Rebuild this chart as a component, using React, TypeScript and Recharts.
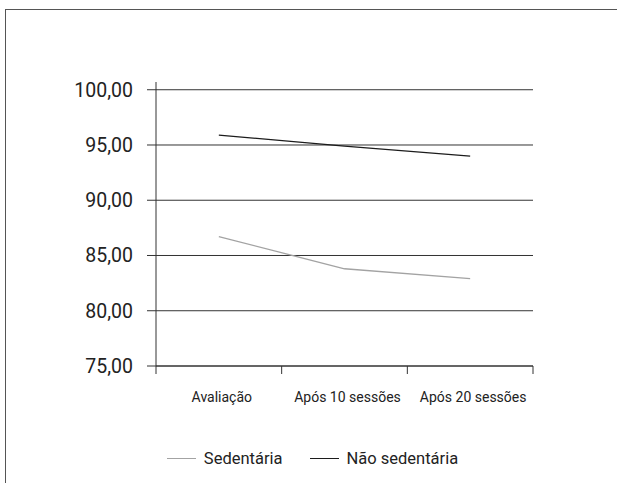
import React from 'react';
import { LineChart, Line, XAxis, YAxis, CartesianGrid, Legend } from 'recharts';

const categories = ['Avaliação', 'Após 10 sessões', 'Após 20 sessões'];
const sedentaria = [86.7, 83.8, 82.9];
const naoSedentaria = [95.9, 94.9, 94.0];
const yTicks = [75, 80, 85, 90, 95, 100];
const yDomain = [75, 100.7];

const SERIES = [
  { key: 'sedentaria', name: 'Sedentária', color: '#a3a3a3' },
  { key: 'naoSedentaria', name: 'Não sedentária', color: '#1c1c1c' },
];

// points sit in the middle of each category band (0..3)
const data = categories.map((c, i) => ({
  pos: i + 0.5,
  label: c,
  sedentaria: sedentaria[i],
  naoSedentaria: naoSedentaria[i],
}));

const FONT = 'Roboto, "Liberation Sans", Arial, sans-serif';
const BAND = (533 - 156) / 3;

// gridlines only at the labelled ticks, not at the top of the domain
const gridRows = ({ yAxis, offset }: any) => {
  const s = yAxis && yAxis.scale;
  if (typeof s === 'function') return yTicks.map((t) => s(t));
  if (s && typeof s.map === 'function') return yTicks.map((t) => s.map(t));
  return yTicks.map(
    (t) => offset.top + (offset.height * (yDomain[1] - t)) / (yDomain[1] - yDomain[0])
  );
};

const CategoryTick = (props: any) => {
  const { x, y, payload } = props;
  const label = categories[payload.value];
  if (!label) return null;
  return (
    <text x={x + BAND / 2 + 3} y={y + 26} textAnchor="middle" fontSize={14} fill="#222" fontFamily={FONT}>
      {label}
    </text>
  );
};

const LegendContent = () => (
  <div style={{ display: 'flex', justifyContent: 'center', alignItems: 'center', fontFamily: FONT, fontSize: 16.5, color: '#222' }}>
    {SERIES.map((s, i) => (
      <div key={s.key} style={{ display: 'flex', alignItems: 'center', marginLeft: i ? 27 : 0 }}>
        <span style={{ display: 'inline-block', width: 29, height: 0, borderTop: `1.3px solid ${s.color}`, marginRight: 8 }} />
        <span>{s.name}</span>
      </div>
    ))}
  </div>
);

export default function App() {
  return (
    <div style={{ position: 'absolute', left: 0, top: 0, width: 617, height: 483, overflow: 'hidden', background: '#fff' }}>
      <LineChart width={617} height={483} data={data} margin={{ top: 82, right: 84, bottom: 77, left: 0 }}>
        <CartesianGrid vertical={false} stroke="#333" strokeWidth={1} horizontalCoordinatesGenerator={gridRows} />
        <XAxis
          dataKey="pos"
          type="number"
          domain={[0, 3]}
          ticks={[0, 1, 2, 3]}
          height={40}
          tickSize={8}
          stroke="#333"
          tick={<CategoryTick />}
        />
        <YAxis
          width={156}
          domain={yDomain}
          ticks={yTicks}
          allowDataOverflow
          tickSize={9}
          tickMargin={14}
          stroke="#333"
          tick={{ fill: '#222', fontSize: 19.5, fontFamily: FONT }}
          tickFormatter={(v: number) => v.toFixed(2).replace('.', ',')}
        />
        <Legend
          layout="vertical"
          align="center"
          verticalAlign="middle"
          content={<LegendContent />}
          wrapperStyle={{ left: 4, top: 449, width: 617 }}
        />
        {SERIES.map((s) => (
          <Line
            key={s.key}
            dataKey={s.key}
            name={s.name}
            stroke={s.color}
            strokeWidth={1.3}
            dot={false}
            type="linear"
            isAnimationActive={false}
          />
        ))}
      </LineChart>
      <div
        style={{
          position: 'absolute',
          left: 5,
          top: 9,
          width: 800,
          height: 800,
          borderLeft: '1.5px solid #555',
          borderTop: '1.5px solid #555',
          pointerEvents: 'none',
        }}
      />
    </div>
  );
}
